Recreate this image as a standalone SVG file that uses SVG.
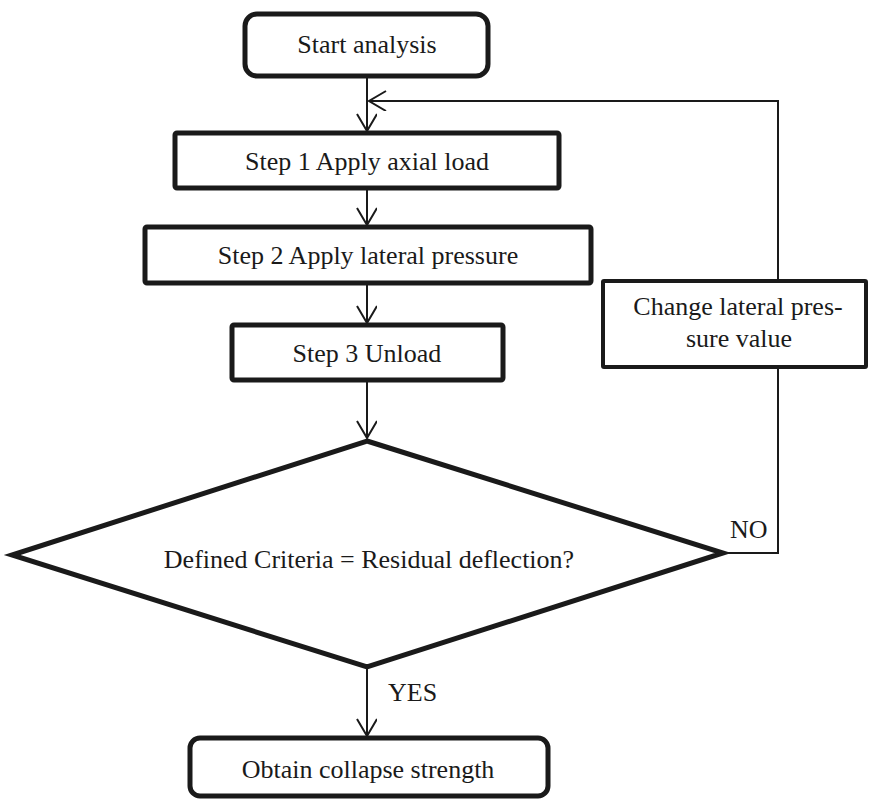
<svg xmlns="http://www.w3.org/2000/svg" width="871" height="799" viewBox="0 0 871 799">
<defs>
<style>
text{font-family:'Liberation Serif','Tinos','DejaVu Serif',serif;font-size:26px;fill:#1a1a1a}
.c{text-anchor:middle}
.box{fill:#fff;stroke:#1a1a1a;stroke-width:5}
.thin{fill:#fff;stroke:#1a1a1a;stroke-width:4}
.ln{fill:none;stroke:#1a1a1a;stroke-width:2}
</style>
<marker id="arr" markerUnits="userSpaceOnUse" markerWidth="24" markerHeight="24" refX="18" refY="10" orient="auto">
<path d="M1,0 L18,10 L1,20" fill="none" stroke="#1a1a1a" stroke-width="2"/>
</marker>
</defs>
<g id="connectors">
<line class="ln" x1="367" y1="76" x2="367" y2="131" marker-end="url(#arr)"/>
<line class="ln" x1="367" y1="188" x2="367" y2="225" marker-end="url(#arr)"/>
<line class="ln" x1="367" y1="283" x2="367" y2="323" marker-end="url(#arr)"/>
<line class="ln" x1="367" y1="380" x2="367" y2="438" marker-end="url(#arr)"/>
<line class="ln" x1="367" y1="667" x2="367" y2="736" marker-end="url(#arr)"/>
<polyline class="ln" points="723,553 778,553 778,101 369,101" marker-end="url(#arr)"/>
<text x="730" y="538" font-family="Liberation Serif, serif">NO</text>
<text x="388" y="701" font-family="Liberation Serif, serif">YES</text>
</g>
<g id="start"><rect class="box" x="245" y="14" width="243" height="62" rx="12"/><text class="c" x="367" y="53" font-family="Liberation Serif, serif">Start analysis</text></g>
<g id="step1"><rect class="box" x="175" y="133" width="384" height="55" rx="2"/><text class="c" x="367" y="170" font-family="Liberation Serif, serif">Step 1 Apply axial load</text></g>
<g id="step2"><rect class="box" x="145" y="227" width="446" height="56" rx="2"/><text class="c" x="368" y="264" font-family="Liberation Serif, serif">Step 2 Apply lateral pressure</text></g>
<g id="step3"><rect class="box" x="232" y="325" width="271" height="55" rx="2"/><text class="c" x="367" y="362" font-family="Liberation Serif, serif">Step 3 Unload</text></g>
<g id="change"><rect class="thin" x="603" y="281" width="263" height="86" rx="1"/><text class="c" x="738" y="315" font-family="Liberation Serif, serif">Change lateral pres-</text><text class="c" x="739" y="347" font-family="Liberation Serif, serif">sure value</text></g>
<g id="decision"><polygon class="box" points="367,441 723,553 367,667 12,555"/><text class="c" x="369" y="568" font-family="Liberation Serif, serif">Defined Criteria = Residual deflection?</text></g>
<g id="end"><rect class="box" x="190" y="738" width="358" height="58" rx="10"/><text class="c" x="368" y="778" font-family="Liberation Serif, serif">Obtain collapse strength</text></g>
</svg>
